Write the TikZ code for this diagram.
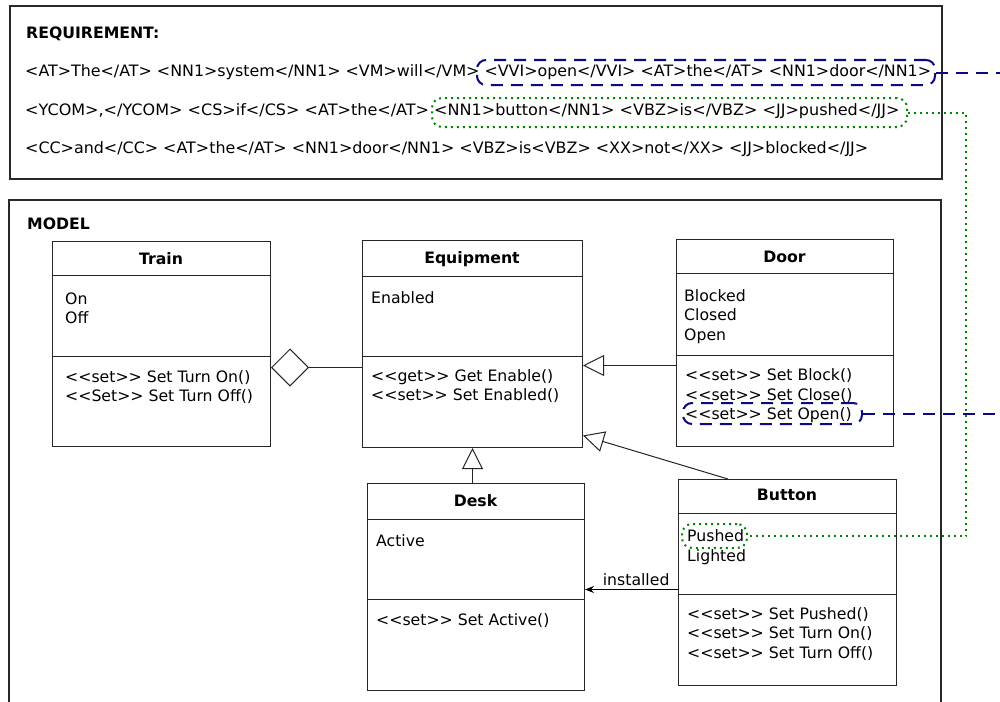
\documentclass[tikz,border=0pt]{standalone}
\usepackage{graphicx}
\usepackage{fontspec}
\setmainfont{DejaVu Sans}[Ligatures=TeXOff]
\usetikzlibrary{arrows.meta}
\definecolor{hlnavy}{RGB}{10,10,130}
\definecolor{hlgreen}{RGB}{0,135,0}
\definecolor{boxgray}{RGB}{40,40,40}
\newcommand\clslines[4]{%
  \foreach \t [count=\i] in {#4}
    \node[txt, anchor=base west] (#1-\i) at (#2,{#3+19.5*(\i-1)}) {\t};}
\begin{document}
\begin{tikzpicture}[x=1pt,y=-1pt,
  every node/.style={font=\fontsize{15.7pt}{19.5pt}\selectfont},
  txt/.style={inner sep=0pt},
  ttl/.style={inner sep=0pt, font=\fontsize{15.7pt}{19.5pt}\selectfont\bfseries},
  clsbox/.style={draw=black!85, line width=1pt, inner sep=0pt, anchor=north west},
  clsline/.style={draw=black!85, line width=1pt},
  outerbox/.style={draw=boxgray, line width=1.6pt, inner sep=0pt, anchor=north west},
  gen/.style={draw=black!85, line width=1pt, -{Triangle[open, length=21pt, width=21pt]}},
  agg/.style={draw=black!85, line width=1pt, {Diamond[open, length=38pt, width=38pt]}-},
  assoc/.style={draw=black, line width=1pt, -{Stealth[length=9pt, width=7pt, inset=3pt]}},
  hlb/.style={draw=hlnavy, line width=2pt, dash pattern=on 12pt off 8pt, rounded corners=9pt, inner sep=0pt},
  hlbline/.style={draw=hlnavy, line width=2pt, dash pattern=on 12pt off 8pt},
  hlg/.style={draw=hlgreen, line width=2pt, dash pattern=on 2pt off 4pt, rounded corners=10pt, inner sep=0pt},
  hlgline/.style={draw=hlgreen, line width=2pt, dash pattern=on 2pt off 4pt},
]
\clip (0,0) rectangle (1000,701);
\fill[white] (0,0) rectangle (1000,701);

% ---------- Requirement box ----------
\node[outerbox, minimum width=932pt, minimum height=173pt] (reqbox) at (9,5) {};
\node[ttl, anchor=base west] (reqT) at (26,39) {REQUIREMENT:};
\node[txt, anchor=base west] (req1) at (25,77) {\scalebox{1.011}[1]{<AT>The</AT> <NN1>system</NN1> <VM>will</VM> <VVI>open</VVI> <AT>the</AT> <NN1>door</NN1>}};
\node[txt, anchor=base west] (req2) at (25,115) {\scalebox{1.021}[1]{<YCOM>,</YCOM> <CS>if</CS> <AT>the</AT> <NN1>button</NN1> <VBZ>is</VBZ> <JJ>pushed</JJ>}};
\node[txt, anchor=base west] (req3) at (25,153) {\scalebox{1.013}[1]{<CC>and</CC> <AT>the</AT> <NN1>door</NN1> <VBZ>is<VBZ> <XX>not</XX> <JJ>blocked</JJ>}};

% ---------- Model frame ----------
\draw[draw=boxgray, line width=1.6pt] (9,720) -- (9,200) -- (941,200) -- (941,720);
\node[ttl, anchor=base west] (modelT) at (27,229) {MODEL};

% ---------- Train ----------
\node[clsbox, minimum width=218pt, minimum height=205pt] (train) at (52,241) {};
\draw[clsline] (train.west |- 0,275) -- (train.east |- 0,275);
\draw[clsline] (train.west |- 0,356) -- (train.east |- 0,356);
\node[ttl, anchor=base] (trainT) at (161,264) {Train};
\clslines{traina}{65}{304}{On,Off}
\clslines{trainm}{65}{382}{<<set>> Set Turn On(),<<Set>> Set Turn Off()}

% ---------- Equipment ----------
\node[clsbox, minimum width=220pt, minimum height=207pt] (equip) at (362,240) {};
\draw[clsline] (equip.west |- 0,276) -- (equip.east |- 0,276);
\draw[clsline] (equip.west |- 0,356) -- (equip.east |- 0,356);
\node[ttl, anchor=base] (equipT) at (472,263.5) {Equipment};
\clslines{equipa}{371}{303}{Enabled}
\clslines{equipm}{371}{381}{<<get>> Get Enable(),<<set>> Set Enabled()}

% ---------- Door ----------
\node[clsbox, minimum width=217pt, minimum height=207pt] (door) at (676,239) {};
\draw[clsline] (door.west |- 0,273) -- (door.east |- 0,273);
\draw[clsline] (door.west |- 0,355) -- (door.east |- 0,355);
\node[ttl, anchor=base] (doorT) at (784.5,262) {Door};
\clslines{doora}{684}{301}{Blocked,Closed,Open}
\clslines{doorm}{685}{380.5}{<<set>> Set Block(),<<set>> Set Close(),<<set>> Set Open()}

% ---------- Desk ----------
\node[clsbox, minimum width=217pt, minimum height=207pt] (desk) at (367,483) {};
\draw[clsline] (desk.west |- 0,519) -- (desk.east |- 0,519);
\draw[clsline] (desk.west |- 0,599) -- (desk.east |- 0,599);
\node[ttl, anchor=base] (deskT) at (475.5,506) {Desk};
\clslines{deska}{376}{546}{Active}
\clslines{deskm}{376}{625}{<<set>> Set Active()}

% ---------- Button ----------
\node[clsbox, minimum width=218pt, minimum height=206pt] (button) at (678,479) {};
\draw[clsline] (button.west |- 0,513) -- (button.east |- 0,513);
\draw[clsline] (button.west |- 0,594) -- (button.east |- 0,594);
\node[ttl, anchor=base] (buttonT) at (787,500.7) {Button};
\clslines{buttona}{687}{541.5}{Pushed,Lighted}
\clslines{buttonm}{687}{619}{<<set>> Set Pushed(),<<set>> Set Turn On(),<<set>> Set Turn Off()}

% ---------- Relations ----------
\draw[agg] ([yshift=-23.5pt]train.east) -- ([yshift=-23.5pt]train.east -| equip.west);
\draw[gen] ([yshift=-22.5pt]door.west) -- ([yshift=-22.5pt]door.west -| equip.east);
\draw[gen] ([xshift=50pt]button.north west) -- ([yshift=-91.5pt]equip.east);
\draw[gen] (desk.north -| equip.south) -- (equip.south);
\draw[assoc] ([yshift=-7pt]button.west) -- ([yshift=-7pt]button.west -| desk.east)
  node[txt, pos=0.45, anchor=base, yshift=4pt] (instL) {installed};

% ---------- Highlights ----------
\node[hlb, minimum width=458pt, minimum height=25pt] (hreq1) at (706,72.5) {};
\coordinate (endA) at (1000,72.5);
\draw[hlbline] (hreq1.east) -- (endA);

\node[hlb, minimum width=179pt, minimum height=21pt] (hopen) at (772.5,413.5) {};
\coordinate (endB) at (1000,413.5);
\draw[hlbline] (hopen.east) -- (endB);

\node[hlg, minimum width=475pt, minimum height=29pt] (hreq2) at (669.5,112.5) {};
\node[hlg, minimum width=65pt, minimum height=24pt] (hpush) at (714.5,536) {};
\coordinate (gc1) at (966,112.5);
\coordinate (gc2) at (966,536);
\draw[hlgline] (hreq2.east) -- (gc1) -- (gc2) -- (hpush.east);
\end{tikzpicture}
\end{document}
